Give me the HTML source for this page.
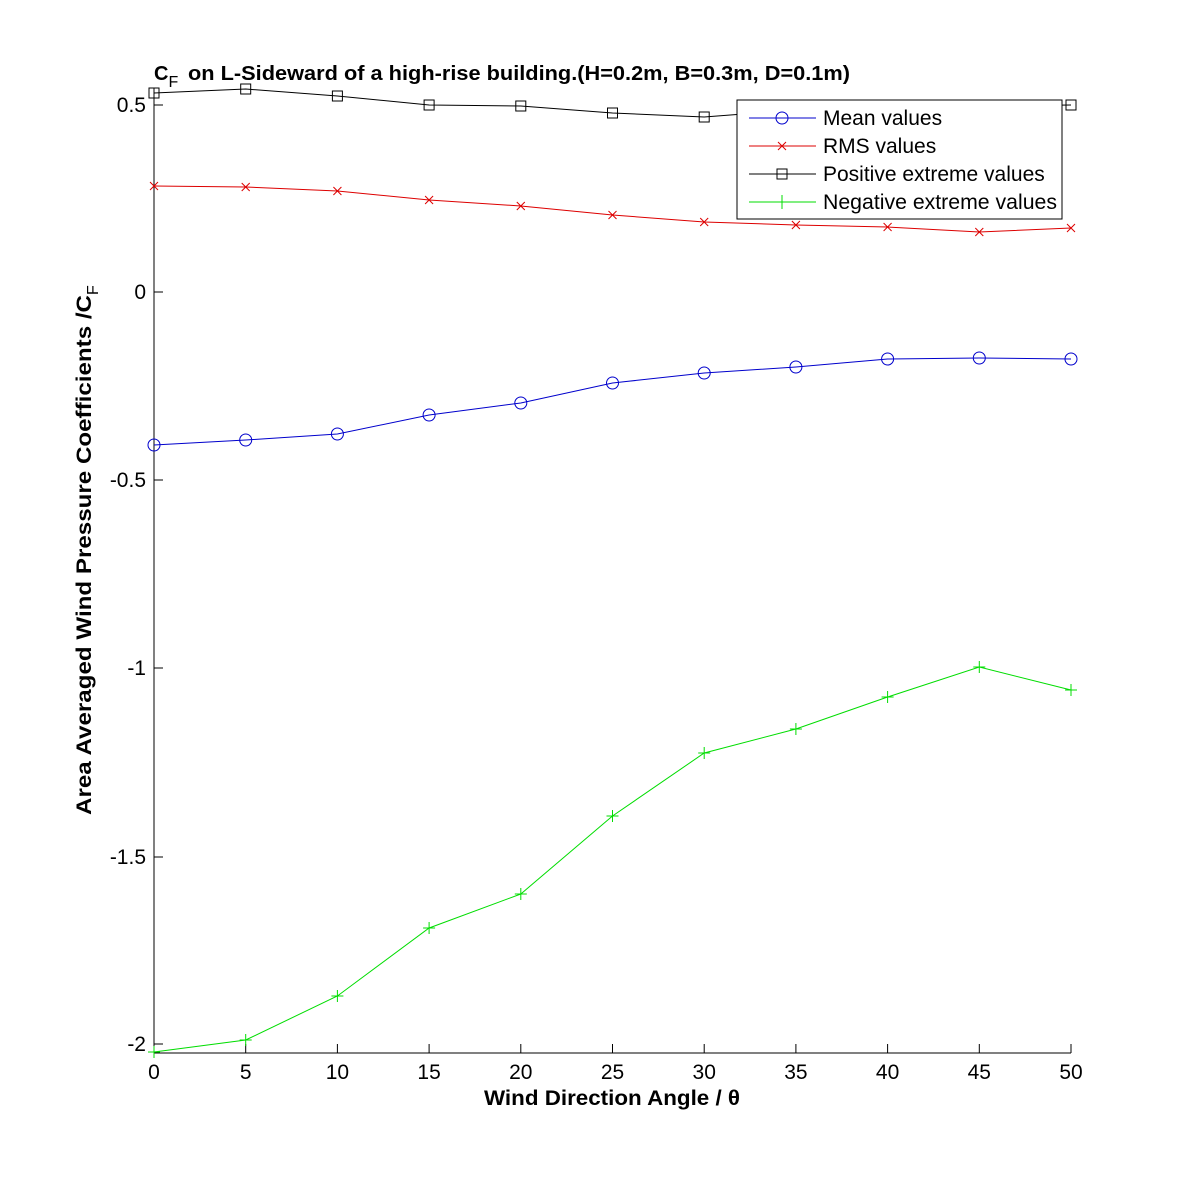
<!DOCTYPE html>
<html><head><style>body{margin:0;background:#fff}</style></head><body>
<svg width="1183" height="1183" xmlns="http://www.w3.org/2000/svg" font-family="Liberation Sans, Arial, sans-serif">
<rect width="1183" height="1183" fill="#fff"/>
<g stroke="#000" stroke-width="1" fill="none">
<line x1="154" y1="88" x2="154" y2="1053"/>
<line x1="154" y1="1053" x2="1071" y2="1053"/>
<path d="M154 105h9M154 292h9M154 480h9M154 668h9M154 857h9M154 1044h9"/>
<path d="M154 1053v-9M245.7 1053v-9M337.4 1053v-9M429.1 1053v-9M520.8 1053v-9M612.5 1053v-9M704.2 1053v-9M795.9 1053v-9M887.6 1053v-9M979.3 1053v-9M1071 1053v-9"/>
</g>
<g font-size="21" text-anchor="end">
<text x="146" y="112">0.5</text><text x="146" y="299">0</text><text x="146" y="487">-0.5</text>
<text x="146" y="675">-1</text><text x="146" y="864">-1.5</text><text x="146" y="1051">-2</text>
</g>
<g font-size="21" text-anchor="middle">
<text x="154" y="1079">0</text><text x="245.7" y="1079">5</text><text x="337.4" y="1079">10</text><text x="429.1" y="1079">15</text><text x="520.8" y="1079">20</text><text x="612.5" y="1079">25</text><text x="704.2" y="1079">30</text><text x="795.9" y="1079">35</text><text x="887.6" y="1079">40</text><text x="979.3" y="1079">45</text><text x="1071" y="1079">50</text>
</g>
<text x="484" y="1105" font-size="21" font-weight="bold" textLength="256" lengthAdjust="spacingAndGlyphs">Wind Direction Angle  / θ</text>
<text transform="translate(91,815) rotate(-90)" font-size="21" font-weight="bold"><tspan textLength="520" lengthAdjust="spacingAndGlyphs">Area Averaged Wind Pressure Coefficients /C</tspan><tspan font-size="16" dy="7" font-weight="normal">F</tspan></text>
<text x="154" y="80" font-size="20" font-weight="bold">C<tspan font-size="16" dy="7" font-weight="normal">F</tspan><tspan dy="-7" x="188" textLength="662" lengthAdjust="spacingAndGlyphs">on L-Sideward of a high-rise building.(H=0.2m, B=0.3m, D=0.1m)</tspan></text>
<polyline fill="none" stroke="#000" points="154,93 245.7,89 337.4,96 429.1,105 520.8,106 612.5,113 704.2,117 795.9,110 887.6,108 979.3,106 1071,105"/>
<g fill="none" stroke="#000">
<rect x="149" y="88" width="10" height="10"/><rect x="240.7" y="84" width="10" height="10"/><rect x="332.4" y="91" width="10" height="10"/><rect x="424.1" y="100" width="10" height="10"/><rect x="515.8" y="101" width="10" height="10"/><rect x="607.5" y="108" width="10" height="10"/><rect x="699.2" y="112" width="10" height="10"/><rect x="1066" y="100" width="10" height="10"/>
</g>
<polyline fill="none" stroke="#d00" points="154,186 245.7,187 337.4,191 429.1,200 520.8,206 612.5,215 704.2,222 795.9,225 887.6,227 979.3,232 1071,228"/>
<path stroke="#d00" d="M150 182l8 8M158 182l-8 8M241.7 183l8 8M249.7 183l-8 8M333.4 187l8 8M341.4 187l-8 8M425.1 196l8 8M433.1 196l-8 8M516.8 202l8 8M524.8 202l-8 8M608.5 211l8 8M616.5 211l-8 8M700.2 218l8 8M708.2 218l-8 8M791.9 221l8 8M799.9 221l-8 8M883.6 223l8 8M891.6 223l-8 8M975.3 228l8 8M983.3 228l-8 8M1067 224l8 8M1075 224l-8 8"/>
<polyline fill="none" stroke="#00c" points="154,445 245.7,440 337.4,434 429.1,415 520.8,403 612.5,383 704.2,373 795.9,367 887.6,359 979.3,358 1071,359"/>
<g fill="none" stroke="#00c">
<circle cx="154" cy="445" r="6"/><circle cx="245.7" cy="440" r="6"/><circle cx="337.4" cy="434" r="6"/><circle cx="429.1" cy="415" r="6"/><circle cx="520.8" cy="403" r="6"/><circle cx="612.5" cy="383" r="6"/><circle cx="704.2" cy="373" r="6"/><circle cx="795.9" cy="367" r="6"/><circle cx="887.6" cy="359" r="6"/><circle cx="979.3" cy="358" r="6"/><circle cx="1071" cy="359" r="6"/>
</g>
<polyline fill="none" stroke="#0d0" points="154,1052 245.7,1040 337.4,996 429.1,928 520.8,894 612.5,816 704.2,753 795.9,729 887.6,697 979.3,667 1071,690"/>
<path stroke="#0d0" d="M148 1052h12M154 1046v12M239.7 1040h12M245.7 1034v12M331.4 996h12M337.4 990v12M423.1 928h12M429.1 922v12M514.8 894h12M520.8 888v12M606.5 816h12M612.5 810v12M698.2 753h12M704.2 747v12M789.9 729h12M795.9 723v12M881.6 697h12M887.6 691v12M973.3 667h12M979.3 661v12M1065 690h12M1071 684v12"/>
<rect x="737" y="100" width="325" height="119" fill="#fff" stroke="#000"/>
<g font-size="21">
<line x1="749" y1="118" x2="816" y2="118" stroke="#00c"/><circle cx="782" cy="118" r="6" fill="none" stroke="#00c"/>
<text x="823" y="125">Mean values</text>
<line x1="749" y1="146" x2="816" y2="146" stroke="#d00"/><path d="M778 142l8 8M786 142l-8 8" stroke="#d00"/>
<text x="823" y="153">RMS values</text>
<line x1="749" y1="174" x2="816" y2="174" stroke="#000"/><rect x="777" y="169" width="10" height="10" fill="none" stroke="#000"/>
<text x="823" y="181">Positive extreme values</text>
<line x1="749" y1="202" x2="816" y2="202" stroke="#0d0"/><path d="M782 195v14" stroke="#0d0"/>
<text x="823" y="209" textLength="234" lengthAdjust="spacingAndGlyphs">Negative extreme values</text>
</g>
</svg>
</body></html>
